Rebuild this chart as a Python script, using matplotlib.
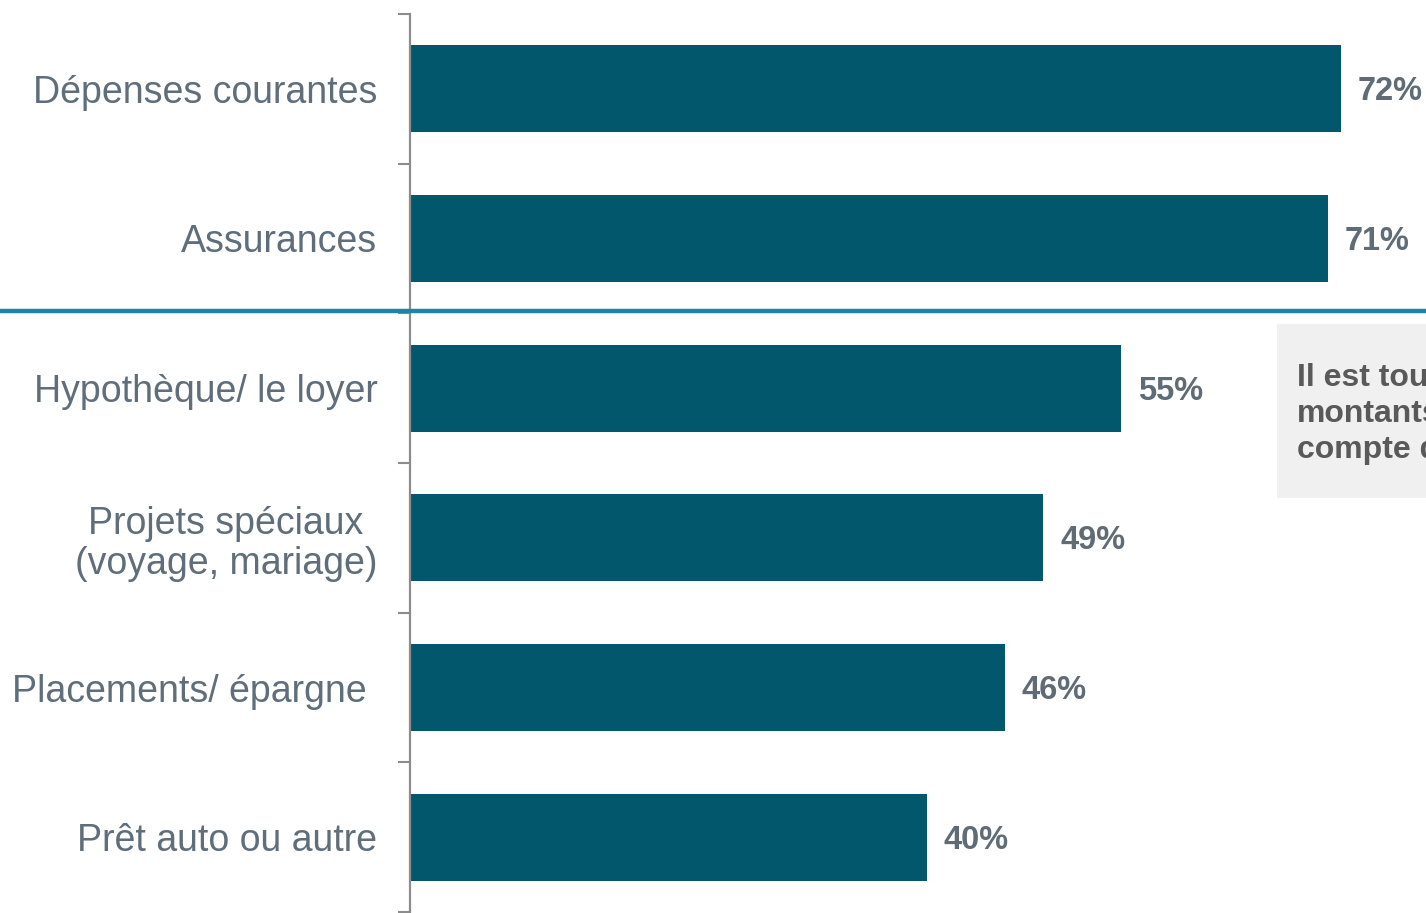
import matplotlib.pyplot as plt
from matplotlib.lines import Line2D
from matplotlib.patches import Rectangle

# Données
categories = ['Dépenses courantes', 'Assurances', 'Hypothèque/ le loyer',
              'Projets spéciaux\n(voyage, mariage)', 'Placements/ épargne ', 'Prêt auto ou autre']
valeurs = [72, 71, 55, 49, 46, 40]
etiquettes = ['72%', '71%', '55%', '49%', '46%', '40%']
encadre = 'Il est toujours plus\nmontants\ncompte de'

plt.rcParams['font.family'] = ['Liberation Sans', 'DejaVu Sans']

fig = plt.figure(figsize=(14.26, 9.13), dpi=100)
ax = fig.add_axes([410 / 1426, 1 / 913, 1 - 410 / 1426, 898 / 913])

pos = list(range(len(categories)))
ax.barh(pos, valeurs, height=0.58, color='#02576c')
for p, v, t in zip(pos, valeurs, etiquettes):
    ax.text(v + 1.3, p + 0.02, t, va='center', ha='left', fontsize=23.5,
            fontweight='bold', color='#5f6b75')

ax.set_xlim(0, 78.6)
ax.set_ylim(5.5, -0.5)
ax.set_xticks([])
ax.set_yticks(pos)
ax.set_yticklabels(categories, fontsize=27, color='#5f6e7a', multialignment='center',
                   linespacing=1.15)
ax.tick_params(axis='y', which='major', length=0, pad=23.5)
ax.set_yticks([i - 0.5 for i in range(len(categories) + 1)], minor=True)
ax.tick_params(axis='y', which='minor', length=8.5, width=1.5, color='#8c8c8c', direction='out')

for s in ['top', 'right', 'bottom']:
    ax.spines[s].set_visible(False)
ax.spines['left'].set_color('#8c8c8c')
ax.spines['left'].set_linewidth(1.6)

# ligne de séparation
y_sep = 1 - 311 / 913
fig.add_artist(Line2D([0, 1], [y_sep, y_sep], color='#1a86a3', linewidth=3.2))

# encadré gris
fig.add_artist(Rectangle((1277 / 1426, 1 - 498 / 913), 0.2, 174 / 913,
                         facecolor='#f0f0f0', edgecolor='none'))
fig.text(1297 / 1426, 1 - 414 / 913, encadre, fontsize=23, fontweight='bold',
         color='#595959', va='center', ha='left', linespacing=1.27)

fig.savefig('out.png', dpi=100)
